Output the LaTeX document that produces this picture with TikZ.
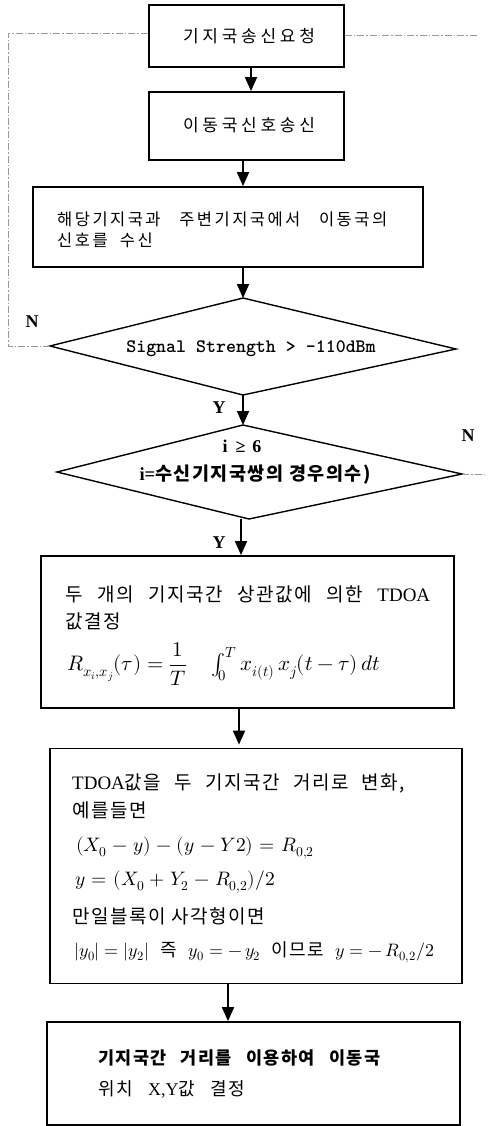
\documentclass[tikz,border=0pt]{standalone}
\usepackage{amsmath}
\usepackage{fontspec}
\usepackage{unicode-math}
\setmainfont{Liberation Serif}
\setmathfont{latinmodern-math.otf}
\newfontfamily\krw[LetterSpace=22]{Noto Sans CJK KR}
\newfontfamily\krm[LetterSpace=8]{Noto Sans CJK KR}
\newfontfamily\krs[LetterSpace=15]{Noto Sans CJK KR}
\newcommand{\kor}[1]{{\krm #1}}
\newcommand{\widemath}{\medmuskip=5mu\relax\thickmuskip=6mu\relax}
\usetikzlibrary{arrows.meta,calc}
\tikzset{
  box/.style={draw, line width=1.8pt, inner sep=0pt},
  dia/.style={draw, line width=1.4pt, line join=miter},
  arr/.style={line width=1.8pt, -{Triangle[length=14pt,width=12pt]}},
  fb/.style={draw=black!40, line width=0.6pt, dash pattern=on 7pt off 2pt on 1.5pt off 2pt},
  lab/.style={font=\fontsize{18}{21}\selectfont\bfseries, inner sep=0pt},
  txt/.style={anchor=west, inner sep=0pt, font=\fontsize{19}{22}\selectfont},
  mth/.style={anchor=west, inner sep=0pt, font=\fontsize{19.5}{23}\selectfont},
}
\begin{document}
\begin{tikzpicture}[x=1pt,y=-1pt]
\useasboundingbox (0,0) rectangle (489,1126);

% boxes
\node[box, minimum width=195pt, minimum height=62pt] (b1) at (246.5,36) {};
\node[inner sep=0pt, font=\krw\fontsize{17}{20}\selectfont] (t1) at (249,36) {기지국송신요청};
\node[box, minimum width=195pt, minimum height=68pt] (b2) at (246.5,126) {};
\node[inner sep=0pt, font=\krw\fontsize{17}{20}\selectfont] (t2) at (249,125) {이동국신호송신};
\node[box, minimum width=390pt, minimum height=80pt] (b3) at (228,227) {};
\node[txt, font=\krs\fontsize{16.5}{20}\selectfont] (t3a) at (57,219) {\hbox to 330pt{해당기지국과\hfill 주변기지국에서\hfill 이동국의}};
\node[txt, font=\krs\fontsize{16.5}{20}\selectfont] (t3b) at (57,240) {신호를\hspace{6pt} 수신};

% diamond 1
\coordinate (d1t) at (243,298);
\coordinate (d1r) at (456,349);
\coordinate (d1b) at (243,395);
\coordinate (d1l) at (50,346);
\draw[dia] (d1t) -- (d1r) -- (d1b) -- (d1l) -- cycle;
\node[inner sep=0pt, font=\ttfamily\bfseries\fontsize{19}{22}\selectfont] (td1) at (251,349) {Signal Strength > -110dBm};

% diamond 2
\coordinate (d2t) at (243,425);
\coordinate (d2r) at (462,474);
\coordinate (d2b) at (249,519);
\coordinate (d2l) at (57,472);
\draw[dia] (d2t) -- (d2r) -- (d2b) -- (d2l) -- cycle;
\node[lab] (td2a) at (242,446) {i\hspace{8pt}≥\hspace{7pt}6};
\node[inner sep=0pt, font=\fontsize{18.5}{21}\selectfont\bfseries] (td2b) at (255,475) {i=\kor{수신기지국쌍의 경우의수)}};

% box 4
\node[box, minimum width=413pt, minimum height=152pt] (b4) at (247.5,632) {};
\node[txt] (t4a) at (65,594) {\hbox to 365pt{\kor{두}\hfill\kor{개의}\hfill\kor{기지국간}\hfill\kor{상관값에}\hfill\kor{의한}\hfill TDOA}};
\node[txt] (t4b) at (65,621) {\kor{값결정}};
\node[mth, font=\fontsize{21}{24}\selectfont] (t4c) at (67,664) {$R_{x_i,x_j}(\tau) = \dfrac{1}{T}\quad\int_0^T x_{i(t)}\,x_j(t-\tau)\,dt$};

% box 5
\node[box, minimum width=412pt, minimum height=235pt] (b5) at (256,866) {};
\node[txt] (t5a) at (72,783) {\hbox to 333pt{TDOA\kor{값을}\hfill\kor{두}\hfill\kor{기지국간}\hfill\kor{거리로}\hfill\kor{변화,}}};
\node[txt] (t5b) at (72,810) {\kor{예를들면}};
\node[mth] (t5c) at (76,848) {\widemath$(X_0 - y) - (y - Y2) = R_{0,2}$};
\node[mth] (t5d) at (75,882) {\widemath$y = (X_0 + Y_2 - R_{0,2})/2$};
\node[txt] (t5e) at (72,916) {\kor{만일블록이 사각형이면}};
\node[mth, font=\fontsize{18}{21}\selectfont] (t5f) at (74,952) {\hbox to 360pt{$|y_0| = |y_2|$\hfill\kor{즉}\hfill$y_0 = -\,y_2$\hfill\kor{이므로}\hfill$y = -\,R_{0,2}/2$}};

% box 6
\node[box, minimum width=413pt, minimum height=103pt] (b6) at (253.5,1073.5) {};
\node[txt, font=\fontsize{17.5}{20}\selectfont] (t6a) at (98,1058) {\hbox to 282pt{\bfseries\kor{기지국간}\hfill\kor{거리를}\hfill\kor{이용하여}\hfill\kor{이동국}}};
\node[txt, font=\fontsize{18}{20}\selectfont] (t6b) at (98,1089) {\hbox to 147pt{\kor{위치}\hfill X,Y\kor{값}\hfill\kor{결정}}};

% labels
\node[lab] (n1) at (32,322) {N};
\node[lab] (n2) at (468,436) {N};
\node[lab] (y1) at (219,408) {Y};
\node[lab] (y2) at (219,543) {Y};

% arrows
\draw[arr] ([xshift=4.5pt]b1.south) -- ([xshift=4.5pt]b2.north);
\draw[arr] ([xshift=-3.5pt]b2.south) -- (b3.north -| d1t);
\draw[arr] (b3.south -| d1t) -- (d1t);
\draw[arr] (d1b) -- (d2t);
\draw[arr] (d2b -| 241,0) -- (b4.north -| 241,0);
\draw[arr] (b4.south -| 239,0) -- ([yshift=3pt]b5.north -| 239,0);
\draw[arr] (b5.south -| 228,0) -- (b6.north -| 228,0);

% feedback dashed lines
\coordinate (fbl) at (8,346);
\coordinate (fbt) at (8,33);
\draw[fb] (d1l) -- (fbl) -- (fbt) -- (b1.west |- fbt);
\coordinate (fbr) at (478,35);
\draw[fb] (b1.east |- fbr) -- (fbr);
\coordinate (fbr2) at (486,474);
\draw[fb] (d2r) -- (fbr2);
\end{tikzpicture}
\end{document}
